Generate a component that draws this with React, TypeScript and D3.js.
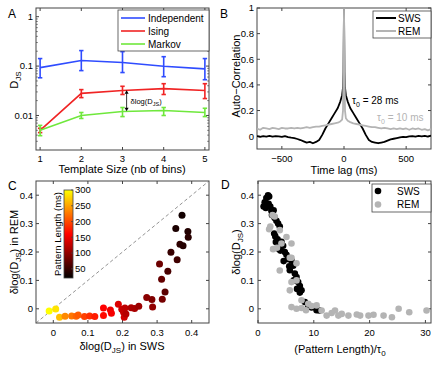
import React from 'react';
import * as d3 from 'd3';

const W = 443, H = 365;
const FONT = '"Liberation Sans", Arial, Helvetica, sans-serif';
const FRAME = '#444';
const TICK_FS = 9.5;
const LAB_FS = 11;

// ---------- Panel A ----------
const templateSizes = [1, 2, 3, 4, 5];
const indepMean = [0.093, 0.13, 0.118, 0.099, 0.088];
const indepLo = [0.058, 0.081, 0.074, 0.061, 0.053];
const indepHi = [0.142, 0.206, 0.196, 0.155, 0.142];
const isingMean = [0.005, 0.028, 0.032, 0.035, 0.032];
const isingLo = [0.0045, 0.023, 0.0266, 0.0266, 0.022];
const isingHi = [0.0055, 0.0334, 0.039, 0.044, 0.044];
const markovMean = [0.005, 0.01, 0.012, 0.0126, 0.0115];
const markovLo = [0.0039, 0.0087, 0.0095, 0.01, 0.0095];
const markovHi = [0.0063, 0.0115, 0.0145, 0.0145, 0.014];
const aSeriesNames = ['Independent', 'Ising', 'Markov'];
const aSeriesColors = ['#2f4cff', '#f02424', '#6fe83c'];
const aYTicks = [0.01, 0.1, 1];
const aYTickLabels = ['0.01', '0.1', '1'];

// ---------- Panel B ----------
const lags = [-700, -675, -650, -625, -600, -575, -550, -525, -500, -475, -450, -425, -400, -375, -350, -325, -300, -275, -250, -225, -200, -175, -150, -125, -100, -75, -50, -30, -15, -8, -4, 0, 4, 8, 15, 30, 50, 75, 100, 125, 150, 175, 200, 225, 250, 275, 300, 325, 350, 375, 400, 425, 450, 475, 500, 525, 550, 575, 600, 625, 650, 675, 700];
const swsAC = [0.0, -0.005, 0.0, -0.003, 0.002, -0.004, 0.0, -0.002, -0.006, 0.0, -0.008, -0.012, -0.015, -0.022, -0.03, -0.04, -0.05, -0.045, -0.055, -0.045, -0.03, 0.01, 0.06, 0.1, 0.14, 0.18, 0.22, 0.27, 0.32, 0.38, 0.5, 1.0, 0.5, 0.38, 0.32, 0.27, 0.22, 0.18, 0.14, 0.1, 0.06, 0.01, -0.03, -0.045, -0.05, -0.055, -0.05, -0.045, -0.035, -0.025, -0.02, -0.015, -0.01, -0.005, -0.008, -0.002, 0.0, -0.004, 0.002, -0.002, 0.003, -0.003, 0.005];
const remAC = [0.06, 0.05, 0.065, 0.06, 0.055, 0.065, 0.06, 0.055, 0.065, 0.06, 0.06, 0.065, 0.06, 0.065, 0.06, 0.065, 0.07, 0.065, 0.07, 0.075, 0.075, 0.08, 0.085, 0.09, 0.095, 0.1, 0.105, 0.115, 0.13, 0.2, 0.55, 1.0, 0.55, 0.2, 0.14, 0.12, 0.11, 0.1, 0.095, 0.09, 0.085, 0.08, 0.075, 0.07, 0.07, 0.065, 0.06, 0.065, 0.06, 0.055, 0.06, 0.055, 0.06, 0.055, 0.06, 0.05, 0.06, 0.055, 0.06, 0.05, 0.055, 0.045, 0.055];
const bXTicks = [-500, 0, 500];
const bYTicks = [0, 0.2, 0.4, 0.6, 0.8, 1];

// ---------- Panel C ----------
const cSws = [-0.012, 0.007, 0.018, 0.034, 0.053, 0.066, 0.072, 0.09, 0.105, 0.12, 0.145, 0.145, 0.165, 0.168, 0.188, 0.198, 0.203, 0.207, 0.205, 0.21, 0.225, 0.235, 0.247, 0.27, 0.285, 0.287, 0.307, 0.313, 0.315, 0.323, 0.331, 0.34, 0.354, 0.358, 0.366, 0.372, 0.375, 0.389, 0.39];
const cRem = [-0.008, -0.001, -0.03, -0.026, -0.025, -0.026, -0.022, -0.027, -0.025, -0.027, 0.003, -0.024, -0.004, -0.016, 0.016, -0.002, -0.012, 0.003, -0.03, -0.018, 0.004, 0.001, 0.009, 0.04, 0.033, 0.006, 0.158, 0.104, 0.034, 0.059, 0.132, 0.199, 0.283, 0.173, 0.227, 0.329, 0.222, 0.272, 0.252];
const cLen = [300, 285, 265, 235, 225, 215, 210, 195, 185, 175, 160, 165, 150, 155, 140, 130, 128, 125, 135, 120, 115, 112, 105, 95, 90, 100, 80, 75, 85, 70, 60, 50, 35, 55, 45, 30, 40, 38, 42];
const cTicks = [0, 0.1, 0.2, 0.3, 0.4];
const cbarTicks = [50, 100, 150, 200, 250, 300];

// ---------- Panel D ----------
const dSwsX = [1.0, 1.2, 1.5, 1.8, 2.0, 1.4, 1.9, 2.2, 2.4, 2.8, 2.5, 3.0, 3.3, 3.6, 3.9, 2.9, 3.1, 3.5, 3.2, 3.7, 4.2, 4.5, 3.6, 4.0, 4.8, 5.1, 5.4, 4.6, 6.0, 5.6, 6.3, 5.7, 6.6, 6.9, 6.4, 7.2, 7.5, 7.0, 7.8, 7.5, 8.4, 9.0, 9.6, 10.5, 11.0];
const dSwsY = [0.36, 0.375, 0.39, 0.4, 0.395, 0.355, 0.37, 0.36, 0.345, 0.347, 0.33, 0.32, 0.31, 0.3, 0.29, 0.265, 0.255, 0.245, 0.235, 0.23, 0.236, 0.222, 0.212, 0.205, 0.2, 0.19, 0.175, 0.168, 0.17, 0.15, 0.152, 0.136, 0.124, 0.112, 0.1, 0.094, 0.08, 0.07, 0.065, 0.057, 0.024, 0.012, 0.005, -0.005, -0.006];
const dRemX = [2.6, 3.0, 2.2, 2.0, 3.9, 5.1, 4.2, 6.0, 2.7, 3.4, 5.7, 6.0, 6.9, 3.9, 6.9, 6.0, 5.7, 7.8, 6.0, 6.9, 7.8, 9.0, 9.6, 10.5, 8.6, 11.4, 12.3, 13.2, 13.8, 14.4, 15.0, 16.2, 17.7, 18.3, 19.8, 20.7, 22.5, 24.0, 25.2, 27.1, 30.2];
const dRemY = [0.33, 0.325, 0.29, 0.28, 0.277, 0.253, 0.23, 0.23, 0.21, 0.215, 0.18, 0.18, 0.16, 0.135, 0.1, 0.094, 0.065, 0.03, 0.006, 0.0, 0.003, 0.018, 0.01, 0.012, -0.005, -0.006, -0.024, -0.015, -0.006, -0.024, -0.018, -0.024, -0.02, -0.024, -0.024, -0.021, -0.024, -0.03, 0.0, -0.012, -0.006];
const dXTicks = [0, 10, 20, 30];

const hotColor = (t: number) => {
  const r = Math.max(0, Math.min(1, t / 0.5));
  const g = Math.max(0, Math.min(1, (t - 0.5) / 0.5));
  return d3.rgb(r * 255, g * 255, 0).toString();
};

function Frame({ x0, x1, y0, y1, xs, ys, xTicks, yTicks, xLabels, yLabels, xLabY, yLabX, minorY }: any) {
  const L = 3;
  return (
    <g>
      <rect x={x0} y={y0} width={x1 - x0} height={y1 - y0} fill="none" stroke={FRAME} strokeWidth={1} />
      {xTicks.map((v: number, i: number) => {
        const x = xs(v);
        return (
          <g key={'x' + i}>
            <line x1={x} x2={x} y1={y1} y2={y1 - L} stroke={FRAME} />
            <line x1={x} x2={x} y1={y0} y2={y0 + L} stroke={FRAME} />
            <text x={x} y={xLabY} textAnchor="middle" fontSize={TICK_FS}>{xLabels[i]}</text>
          </g>
        );
      })}
      {yTicks.map((v: number, i: number) => {
        const y = ys(v);
        return (
          <g key={'y' + i}>
            <line x1={x0} x2={x0 + L} y1={y} y2={y} stroke={FRAME} />
            <line x1={x1} x2={x1 - L} y1={y} y2={y} stroke={FRAME} />
            <text x={yLabX} y={y + 3.4} textAnchor="end" fontSize={TICK_FS}>{yLabels[i]}</text>
          </g>
        );
      })}
      {(minorY || []).map((v: number, i: number) => {
        const y = ys(v);
        return (
          <g key={'m' + i}>
            <line x1={x0} x2={x0 + 1.8} y1={y} y2={y} stroke={FRAME} strokeWidth={0.7} />
            <line x1={x1} x2={x1 - 1.8} y1={y} y2={y} stroke={FRAME} strokeWidth={0.7} />
          </g>
        );
      })}
    </g>
  );
}

function PanelA() {
  const x0 = 36, x1 = 209, y0 = 8, y1 = 150;
  const xs = d3.scaleLinear().domain([0.9, 5.1]).range([x0, x1]);
  const ys = d3.scaleLog().domain([0.002, 1.5]).range([y1, y0]);
  const series = [
    { m: indepMean, lo: indepLo, hi: indepHi },
    { m: isingMean, lo: isingLo, hi: isingHi },
    { m: markovMean, lo: markovLo, hi: markovHi },
  ];
  const minor: number[] = [];
  [0.001, 0.01, 0.1, 1].forEach((d) => { for (let k = 2; k <= 9; k++) { const v = d * k; if (v > 0.002 && v < 1.5) minor.push(v); } });
  const line = d3.line<number>().x((_, i) => xs(templateSizes[i])).y((v) => ys(v));
  const ax = xs(3.1);
  return (
    <g>
      <Frame x0={x0} x1={x1} y0={y0} y1={y1} xs={xs} ys={ys} xTicks={templateSizes} yTicks={aYTicks}
        xLabels={templateSizes.map(String)} yLabels={aYTickLabels} xLabY={162} yLabX={33} minorY={minor} />
      {series.map((s, si) => (
        <g key={si}>
          <path d={line(s.m) || ''} fill="none" stroke={aSeriesColors[si]} strokeWidth={1.6} />
          {templateSizes.map((t, i) => (
            <g key={i} stroke={aSeriesColors[si]} strokeWidth={1.6}>
              <line x1={xs(t)} x2={xs(t)} y1={ys(s.lo[i])} y2={ys(s.hi[i])} />
              <line x1={xs(t) - 2.2} x2={xs(t) + 2.2} y1={ys(s.lo[i])} y2={ys(s.lo[i])} />
              <line x1={xs(t) - 2.2} x2={xs(t) + 2.2} y1={ys(s.hi[i])} y2={ys(s.hi[i])} />
            </g>
          ))}
        </g>
      ))}
      <line x1={ax} x2={ax} y1={ys(0.0325) + 3} y2={ys(0.0122) - 3} stroke="#000" strokeWidth={0.8} />
      <path d={`M${ax},${ys(0.0325)} l-2,3.5 l4,0 z`} fill="#000" />
      <path d={`M${ax},${ys(0.0122)} l-2,-3.5 l4,0 z`} fill="#000" />
      <text x={ax + 4} y={104} fontSize={7.5}>δlog(D<tspan dy={2} fontSize={5.5}>JS</tspan><tspan dy={-2}>)</tspan></text>
      <rect x={118} y={10} width={91} height={41} fill="#fff" stroke={FRAME} strokeWidth={0.8} />
      {aSeriesNames.map((n, i) => (
        <g key={n}>
          <line x1={121} x2={145} y1={18 + i * 13} y2={18 + i * 13} stroke={aSeriesColors[i]} strokeWidth={1.6} />
          <text x={148} y={21.5 + i * 13} fontSize={10}>{n}</text>
        </g>
      ))}
      <text x={8} y={18} fontSize={12}>A</text>
      <text transform="translate(18,80) rotate(-90)" textAnchor="middle" fontSize={LAB_FS}>D<tspan dy={3} fontSize={8}>JS</tspan></text>
      <text x={122} y={173} textAnchor="middle" fontSize={LAB_FS}>Template Size (nb of bins)</text>
    </g>
  );
}

function PanelB() {
  const x0 = 257, x1 = 431, y0 = 8, y1 = 149;
  const xs = d3.scaleLinear().domain([-700, 700]).range([x0, x1]);
  const ys = d3.scaleLinear().domain([-0.1, 1]).range([y1, y0]);
  const line = d3.line<number>().x((_, i) => xs(lags[i])).y((v) => ys(v));
  return (
    <g>
      <defs>
        <clipPath id="clipB"><rect x={x0} y={y0} width={x1 - x0} height={y1 - y0} /></clipPath>
      </defs>
      <Frame x0={x0} x1={x1} y0={y0} y1={y1} xs={xs} ys={ys} xTicks={bXTicks} yTicks={bYTicks}
        xLabels={bXTicks.map((v) => (v < 0 ? '\u2212' + Math.abs(v) : String(v)))} yLabels={bYTicks.map(String)} xLabY={162} yLabX={254} />
      <g clipPath="url(#clipB)">
        <path d={line(swsAC) || ''} fill="none" stroke="#000" strokeWidth={1.8} strokeLinejoin="round" />
        <path d={line(remAC) || ''} fill="none" stroke="#b4b4b4" strokeWidth={1.8} strokeLinejoin="round" />
      </g>
      <text x={352} y={104} fontSize={10}>τ<tspan dy={2.5} fontSize={7}>0</tspan><tspan dy={-2.5}> = 28 ms</tspan></text>
      <text x={377} y={121} fontSize={10} fill="#b4b4b4">τ<tspan dy={2.5} fontSize={7}>0</tspan><tspan dy={-2.5}> = 10 ms</tspan></text>
      <rect x={373} y={11} width={58} height={27} fill="#fff" stroke={FRAME} strokeWidth={0.8} />
      <line x1={376} x2={396} y1={18} y2={18} stroke="#000" strokeWidth={2} />
      <text x={398} y={21.5} fontSize={10}>SWS</text>
      <line x1={376} x2={396} y1={31} y2={31} stroke="#b4b4b4" strokeWidth={2} />
      <text x={398} y={34.5} fontSize={10}>REM</text>
      <text x={220} y={18} fontSize={12}>B</text>
      <text transform="translate(240,76) rotate(-90)" textAnchor="middle" fontSize={LAB_FS}>Auto−Correlation</text>
      <text x={344} y={174} textAnchor="middle" fontSize={LAB_FS}>Time lag (ms)</text>
    </g>
  );
}

function PanelC() {
  const x0 = 36, x1 = 209, y0 = 181, y1 = 323;
  const xs = d3.scaleLinear().domain([-0.05, 0.45]).range([x0, x1]);
  const ys = d3.scaleLinear().domain([-0.05, 0.45]).range([y1, y0]);
  const lenScale = d3.scaleLinear().domain([20, 300]).range([0, 1]).clamp(true);
  const cb = { x: 64, w: 9, y: 190, h: 88 };
  const cbScale = d3.scaleLinear().domain([21, 300]).range([cb.y + cb.h, cb.y]);
  const stops = d3.range(0, 1.0001, 0.05);
  return (
    <g>
      <defs>
        <linearGradient id="hotGrad" x1="0" y1="1" x2="0" y2="0">
          {stops.map((t) => <stop key={t} offset={t} stopColor={hotColor(lenScale(cbScale.invert(cb.y + cb.h - t * cb.h)))} />)}
        </linearGradient>
      </defs>
      <Frame x0={x0} x1={x1} y0={y0} y1={y1} xs={xs} ys={ys} xTicks={cTicks} yTicks={cTicks}
        xLabels={cTicks.map(String)} yLabels={cTicks.map(String)} xLabY={336} yLabX={33} />
      <line x1={xs(-0.05)} y1={ys(-0.05)} x2={xs(0.45)} y2={ys(0.45)} stroke="#666" strokeWidth={0.7} strokeDasharray="3.5,2.5" />
      {cSws.map((v, i) => (
        <circle key={i} cx={xs(v)} cy={ys(cRem[i])} r={3.5} fill={hotColor(lenScale(cLen[i]))} />
      ))}
      <rect x={cb.x} y={cb.y} width={cb.w} height={cb.h} fill="url(#hotGrad)" stroke={FRAME} strokeWidth={0.8} />
      {cbarTicks.map((v) => (
        <g key={v}>
          <line x1={cb.x + cb.w} x2={cb.x + cb.w - 2} y1={cbScale(v)} y2={cbScale(v)} stroke={FRAME} strokeWidth={0.7} />
          <text x={cb.x + cb.w + 2} y={cbScale(v) + 3.4} fontSize={TICK_FS}>{v}</text>
        </g>
      ))}
      <text transform="translate(61,234) rotate(-90)" textAnchor="middle" fontSize={9.5}>Pattern Length (ms)</text>
      <text x={8} y={190} fontSize={12}>C</text>
      <text transform="translate(18,252) rotate(-90)" textAnchor="middle" fontSize={LAB_FS}>δlog(D<tspan dy={3} fontSize={8}>JS</tspan><tspan dy={-3}>) in REM</tspan></text>
      <text x={122} y={350} textAnchor="middle" fontSize={LAB_FS}>δlog(D<tspan dy={3} fontSize={8}>JS</tspan><tspan dy={-3}>) in SWS</tspan></text>
    </g>
  );
}

function PanelD() {
  const x0 = 258, x1 = 431, y0 = 181, y1 = 323;
  const xs = d3.scaleLinear().domain([0, 31]).range([x0, x1]);
  const ys = d3.scaleLinear().domain([-0.05, 0.45]).range([y1, y0]);
  return (
    <g>
      <Frame x0={x0} x1={x1} y0={y0} y1={y1} xs={xs} ys={ys} xTicks={dXTicks} yTicks={cTicks}
        xLabels={dXTicks.map(String)} yLabels={cTicks.map(String)} xLabY={336} yLabX={254} />
      {dSwsX.map((v, i) => <circle key={'s' + i} cx={xs(v)} cy={ys(dSwsY[i])} r={3.3} fill="#000" />)}
      {dRemX.map((v, i) => <circle key={'r' + i} cx={xs(v)} cy={ys(dRemY[i])} r={3.3} fill="#b4b4b4" />)}
      <rect x={372} y={184} width={59} height={28} fill="#fff" stroke={FRAME} strokeWidth={0.8} />
      <circle cx={378} cy={191} r={3.3} fill="#000" />
      <text x={397} y={194.5} fontSize={10}>SWS</text>
      <circle cx={378} cy={204.5} r={3.3} fill="#b4b4b4" />
      <text x={397} y={208} fontSize={10}>REM</text>
      <text x={221} y={189} fontSize={12}>D</text>
      <text transform="translate(240,252) rotate(-90)" textAnchor="middle" fontSize={LAB_FS}>δlog(D<tspan dy={3} fontSize={8}>JS</tspan><tspan dy={-3}>)</tspan></text>
      <text x={340} y={353} textAnchor="middle" fontSize={LAB_FS}>(Pattern Length)/τ<tspan dy={3} fontSize={8}>0</tspan></text>
    </g>
  );
}

export default function App() {
  return (
    <svg width={W} height={H} viewBox={`0 0 ${W} ${H}`}
      style={{ position: 'absolute', left: 0, top: 0, background: '#fff', fontFamily: FONT }}>
      <rect width={W} height={H} fill="#fff" />
      <PanelA />
      <PanelB />
      <PanelC />
      <PanelD />
    </svg>
  );
}
